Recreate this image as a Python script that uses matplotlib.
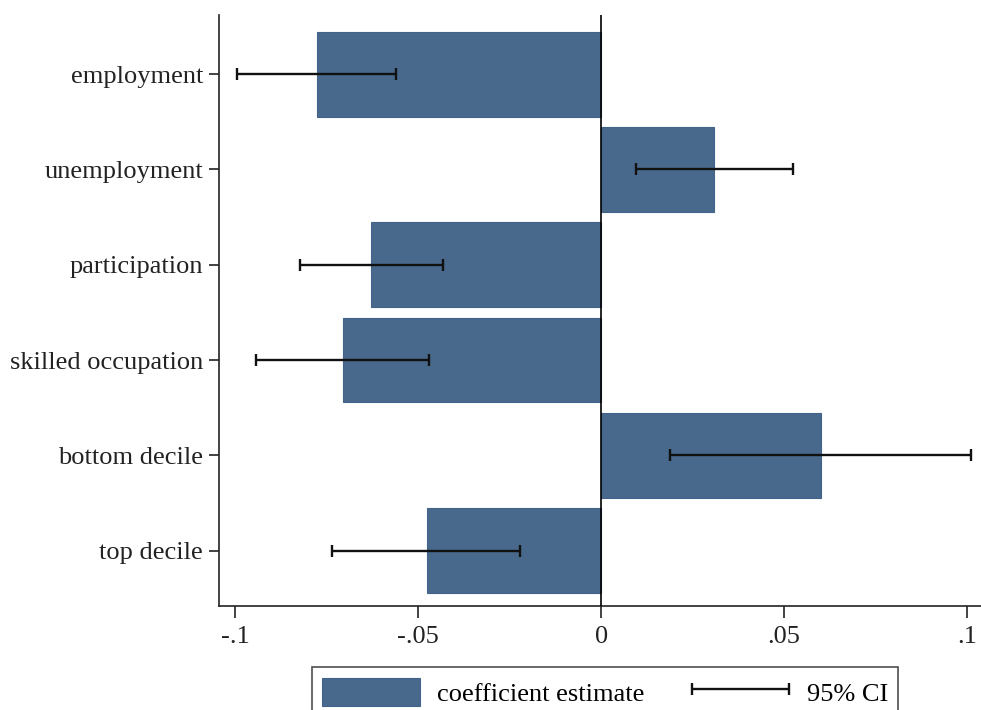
import matplotlib
matplotlib.use("Agg")
import matplotlib.pyplot as plt
from matplotlib.legend_handler import HandlerErrorbar
import numpy as np

categories = ["employment", "unemployment", "participation",
              "skilled occupation", "bottom decile", "top decile"]
coef = [-0.0776, 0.0309, -0.0628, -0.0705, 0.0601, -0.0475]
ci_low = [-0.0995, 0.0096, -0.0822, -0.0943, 0.0189, -0.0735]
ci_high = [-0.0560, 0.0525, -0.0432, -0.0470, 0.1010, -0.0221]
xticks = [-0.1, -0.05, 0, 0.05, 0.1]
xticklabels = ["-.1", "-.05", "0", ".05", ".1"]

plt.rcParams['font.family'] = ['Liberation Serif', 'DejaVu Serif']
FS = 19

fig = plt.figure(figsize=(9.81, 7.10), dpi=100)
ax = fig.add_axes([219/981, 1 - 606/710, 1 - 219/981, (606 - 15)/710])

y = np.arange(len(categories))
bar_color = "#48698b"
ax.barh(y, coef, height=0.89, color=bar_color, edgecolor="#43648a",
        linewidth=0.8, label="coefficient estimate", zorder=2)

mid = [(l + h) / 2 for l, h in zip(ci_low, ci_high)]
half = [(h - l) / 2 for l, h in zip(ci_low, ci_high)]
eb = ax.errorbar(mid, y, xerr=half, fmt='none', ecolor="#111111",
                 elinewidth=1.7, capsize=4.5, capthick=1.7,
                 label="95% CI", zorder=3)

ax.axvline(0, color="black", linewidth=1.2, zorder=4)

ax.set_xlim(-0.1044, 0.1038)
ax.set_ylim(5.58, -0.62)
ax.set_yticks(y)
ax.set_yticklabels(categories, fontsize=FS)
ax.set_xticks(xticks)
ax.set_xticklabels(xticklabels, fontsize=FS)
for s in ["top", "right"]:
    ax.spines[s].set_visible(False)
for s in ["left", "bottom"]:
    ax.spines[s].set_linewidth(1.2)
    ax.spines[s].set_color("#222222")
ax.tick_params(axis="both", direction="out", width=1.2,
               color="#222222", labelcolor="#222222")
ax.tick_params(axis="x", length=8.5, pad=6)
ax.tick_params(axis="y", length=7.5, pad=4)

handles, labels = ax.get_legend_handles_labels()
leg = fig.legend(handles, labels, loc="upper center",
                 bbox_to_anchor=(605/981, 1 - 667/710), ncol=2,
                 fontsize=FS, frameon=True, fancybox=False,
                 edgecolor="#222222", handlelength=3.7, handleheight=1.3,
                 columnspacing=1.8, borderpad=0.4, handletextpad=0.65,
                 borderaxespad=0.0,
                 handler_map={eb: HandlerErrorbar(xerr_size=1.85)})
leg.get_frame().set_linewidth(1.2)

fig.savefig("out.png", dpi=100, facecolor="white")
